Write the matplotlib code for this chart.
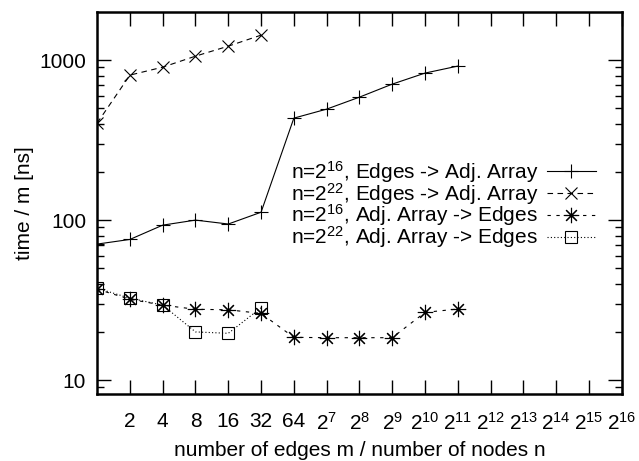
import numpy as np
import matplotlib.pyplot as plt
from matplotlib.ticker import FixedLocator, NullLocator, NullFormatter

plt.rcParams['font.family'] = ['Liberation Sans', 'DejaVu Sans']
plt.rcParams['mathtext.default'] = 'regular'

# ratio m/n (powers of two) and time per edge in ns
ratio_16 = [2 ** k for k in range(0, 12)]
ratio_22 = [2 ** k for k in range(0, 6)]

e2a_n16 = [70.8, 75.7, 93, 100, 94.5, 112, 434, 494, 587, 708, 830, 918]
e2a_n22 = [404, 806, 904, 1059, 1223, 1433]
a2e_n16 = [37.0, 32.0, 29.4, 27.7, 27.5, 26.1, 18.5, 18.4, 18.4, 18.4, 26.5, 27.8]
a2e_n22 = [37.5, 32.5, 29.4, 20.0, 19.6, 28.3]

labels = [
    'n=2$^{16}$, Edges -> Adj. Array',
    'n=2$^{22}$, Edges -> Adj. Array',
    'n=2$^{16}$, Adj. Array -> Edges',
    'n=2$^{22}$, Adj. Array -> Edges',
]

xtick_vals = [2 ** k for k in range(1, 17)]
xtick_labels = [str(v) for v in xtick_vals[:6]] + ['$2^{%d}$' % k for k in range(7, 17)]

fs = 15

fig = plt.figure(figsize=(6.39, 4.61), dpi=100)
ax = fig.add_axes([0.152, 0.1453, 0.821, 0.8287])

lw = 0.8
ax.plot(ratio_16, e2a_n16, color='black', lw=lw, ls='-', marker='+', ms=10, mew=0.8, label=labels[0])
ax.plot(ratio_22, e2a_n22, color='black', lw=lw, ls=(0, (5, 4)), marker='x', ms=9, mew=0.8, label=labels[1])
ax.plot(ratio_16, a2e_n16, color='black', lw=lw, ls=(0, (3, 5)), marker=(8, 2, 0), ms=11, mew=0.8, label=labels[2])
ax.plot(ratio_22, a2e_n22, color='black', lw=lw, ls=(0, (1, 2)), marker='s', ms=9, mew=0.8, mfc='none', label=labels[3])

ax.set_xscale('log', base=2)
ax.set_yscale('log')
ax.set_xlim(1, 2 ** 16)
ax.set_ylim(8.18, 2000)

ax.xaxis.set_major_locator(FixedLocator(xtick_vals))
ax.set_xticklabels(xtick_labels)
ax.xaxis.set_minor_locator(NullLocator())

ax.yaxis.set_major_locator(FixedLocator([10, 100, 1000]))
ax.set_yticklabels(['10', '100', '1000'])
minors = [m * d for d in (1, 10, 100, 1000) for m in range(2, 10) if m * d < 2000]
ax.yaxis.set_minor_locator(FixedLocator(minors))
ax.yaxis.set_minor_formatter(NullFormatter())

ax.tick_params(which='both', direction='in', top=True, right=True, labelsize=fs, width=1.0)
ax.tick_params(which='major', length=10)
ax.tick_params(axis='x', which='major', pad=13)
ax.tick_params(axis='y', which='major', pad=8)
ax.tick_params(which='minor', length=5)
for sp in ax.spines.values():
    sp.set_linewidth(1.8)

ax.set_xlabel('number of edges m / number of nodes n', fontsize=fs)
ax.xaxis.set_label_coords(0.5, -0.122)
ax.set_ylabel('time / m [ns]', fontsize=fs, labelpad=4)

ax.legend(loc='upper right', bbox_to_anchor=(0.950, 0.615), frameon=False, markerfirst=False,
          fontsize=fs, handlelength=2.35, labelspacing=-0.2, handletextpad=0.4, numpoints=1,
          borderpad=0, borderaxespad=0)

fig.savefig('out.png', dpi=100)
